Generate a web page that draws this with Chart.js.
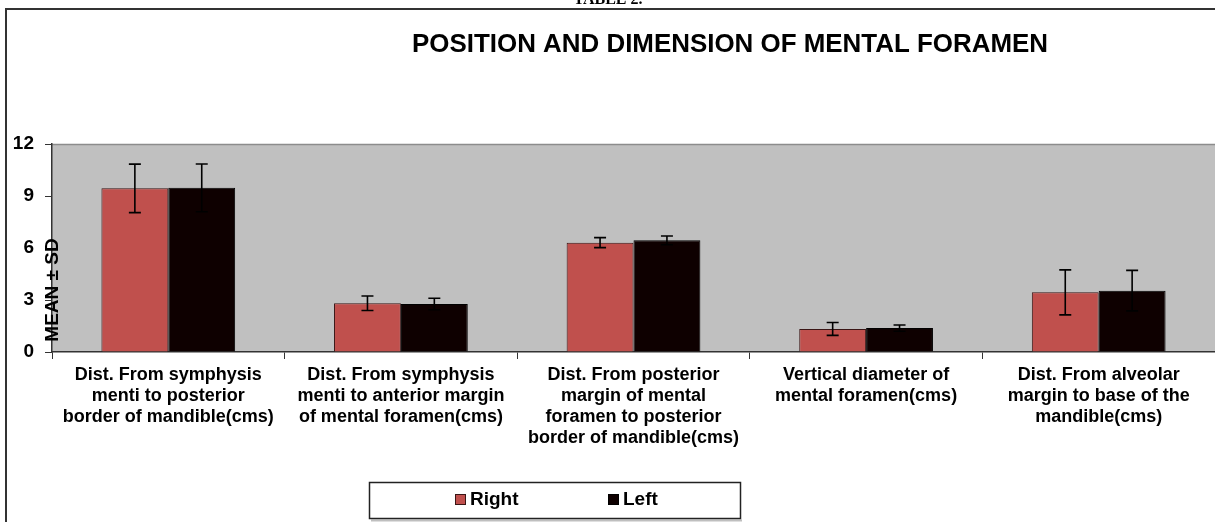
<!DOCTYPE html>
<html>
<head>
<meta charset="utf-8">
<script src="https://cdn.jsdelivr.net/npm/chart.js@4/dist/chart.umd.min.js"></script>
<style>
  html, body { margin: 0; padding: 0; background: #fff; overflow: hidden; }
  #wrap { width: 1215px; height: 522px; }
</style>
</head>
<body>
<div id="wrap"><canvas id="myChart1" width="1215" height="522"></canvas></div>
<script>
// categories (multi-line labels)
var categories = [
    ["Dist. From symphysis", "menti to posterior", "border of mandible(cms)"],
    ["Dist. From symphysis", "menti to anterior margin", "of mental foramen(cms)"],
    ["Dist. From posterior", "margin of mental", "foramen to posterior", "border of mandible(cms)"],
    ["Vertical diameter of", "mental foramen(cms)"],
    ["Dist. From alveolar", "margin to base of the", "mandible(cms)"]
];
var rightMean = [9.44, 2.81, 6.31, 1.33, 3.44];
var rightSD   = [1.40, 0.42, 0.29, 0.37, 1.30];
var leftMean  = [9.47, 2.77, 6.44, 1.38, 3.54];
var leftSD    = [1.38, 0.33, 0.25, 0.18, 1.17];
var yTicks = [0, 3, 6, 9, 12];

var sdList = [rightSD, leftSD];

// grey plot background + frame + title + y label + legend
var decor = {
    id: 'decor',
    beforeDraw: function (chart) {
        var ctx = chart.ctx, a = chart.chartArea;
        ctx.save();
        ctx.fillStyle = '#c0c0c0';
        ctx.fillRect(a.left, a.top, a.right - a.left, a.bottom - a.top);
        ctx.strokeStyle = '#8c8c8c';
        ctx.lineWidth = 1.5;
        ctx.beginPath();
        ctx.moveTo(a.left, a.top + 0.5);
        ctx.lineTo(a.right, a.top + 0.5);
        ctx.stroke();
        ctx.restore();
    },
    afterDatasetsDraw: function (chart) {
        var ctx = chart.ctx, y = chart.scales.y;
        ctx.save();
        ctx.strokeStyle = '#000';
        ctx.lineWidth = 1.6;
        chart.data.datasets.forEach(function (ds, di) {
            var meta = chart.getDatasetMeta(di);
            meta.data.forEach(function (bar, i) {
                var m = ds.data[i], sd = sdList[di][i];
                var yt = y.getPixelForValue(m + sd), yb = y.getPixelForValue(m - sd);
                ctx.beginPath();
                ctx.moveTo(bar.x, yt); ctx.lineTo(bar.x, yb);
                ctx.moveTo(bar.x - 6, yt); ctx.lineTo(bar.x + 6, yt);
                ctx.moveTo(bar.x - 6, yb); ctx.lineTo(bar.x + 6, yb);
                ctx.stroke();
            });
        });
        ctx.restore();
    },
    afterDraw: function (chart) {
        var ctx = chart.ctx;
        ctx.save();
        // outer frame
        ctx.strokeStyle = '#333';
        ctx.lineWidth = 2;
        ctx.beginPath();
        ctx.moveTo(1215, 9); ctx.lineTo(6, 9); ctx.lineTo(6, 522);
        ctx.stroke();
        // clipped heading above frame
        ctx.fillStyle = '#000';
        ctx.font = 'bold 16px "Liberation Serif"';
        ctx.textAlign = 'center';
        ctx.textBaseline = 'alphabetic';
        ctx.fillText('TABLE 2.', 608, 4);
        // title
        ctx.font = 'bold 26px "Liberation Sans", Arial';
        ctx.fillText('POSITION AND DIMENSION OF MENTAL FORAMEN', 730, 52, 636);
        // y axis label
        ctx.save();
        ctx.translate(58, 290);
        ctx.rotate(-Math.PI / 2);
        ctx.font = 'bold 19px "Liberation Sans", Arial';
        ctx.textAlign = 'center';
        ctx.fillText('MEAN \u00b1 SD', 0, 0, 106);
        ctx.restore();
        // legend
        ctx.strokeStyle = '#222';
        ctx.lineWidth = 1.5;
        ctx.strokeRect(369.5, 482.5, 371, 36);
        ctx.fillStyle = 'rgba(0,0,0,0.25)';
        ctx.fillRect(371, 519.5, 371, 2);
        var items = [
            { text: 'Right', x: 455 },
            { text: 'Left', x: 608 }
        ];
        ctx.font = 'bold 19px "Liberation Sans", Arial';
        ctx.textAlign = 'left';
        ctx.textBaseline = 'middle';
        items.forEach(function (it, i) {
            var ds = chart.data.datasets[i];
            ctx.fillStyle = ds.backgroundColor;
            ctx.fillRect(it.x, 494, 11, 11);
            ctx.strokeStyle = ds.borderColor;
            ctx.lineWidth = 1;
            ctx.strokeRect(it.x + 0.5, 494.5, 10, 10);
            ctx.fillStyle = '#000';
            ctx.fillText(it.text, it.x + 15, 500);
        });
        ctx.restore();
    }
};

var barc = document.getElementById('myChart1').getContext('2d');
var myChart1 = new Chart(barc, {
    type: 'bar',
    data: {
        labels: categories,
        datasets: [{
            label: "Right",
            data: rightMean,
            backgroundColor: "#c0504d",
            borderColor: "#3a1515",
            borderWidth: 1
        }, {
            label: "Left",
            data: leftMean,
            backgroundColor: "#0e0000",
            borderColor: "#000000",
            borderWidth: 1
        }]
    },
    options: {
        responsive: false,
        animation: false,
        devicePixelRatio: 1,
        layout: { padding: { top: 144, right: 0, bottom: 0, left: 0 } },
        datasets: { bar: { categoryPercentage: 0.575, barPercentage: 1.0 } },
        plugins: {
            legend: { display: false },
            title: { display: false },
            tooltip: { enabled: false }
        },
        scales: {
            x: {
                afterFit: function (s) { s.height = 170; },
                grid: {
                    offset: true,
                    drawOnChartArea: false,
                    drawTicks: true,
                    tickLength: 7,
                    color: '#333'
                },
                border: { display: true, color: '#333', width: 1.5 },
                ticks: {
                    color: '#000',
                    padding: 5,
                    maxRotation: 0,
                    autoSkip: false,
                    font: { family: '"Liberation Sans", Arial', size: 18, weight: 'bold', lineHeight: 1.18 }
                }
            },
            y: {
                min: 0,
                max: 12,
                afterFit: function (s) { s.width = 52; },
                afterBuildTicks: function (s) {
                    s.ticks = yTicks.map(function (v) { return { value: v }; });
                },
                grid: {
                    drawOnChartArea: false,
                    drawTicks: true,
                    tickLength: 7,
                    color: '#333'
                },
                border: { display: true, color: '#333', width: 1.5 },
                ticks: {
                    color: '#000',
                    padding: 11,
                    font: { family: '"Liberation Sans", Arial', size: 19, weight: 'bold' }
                }
            }
        }
    },
    plugins: [decor]
});
</script>
</body>
</html>
